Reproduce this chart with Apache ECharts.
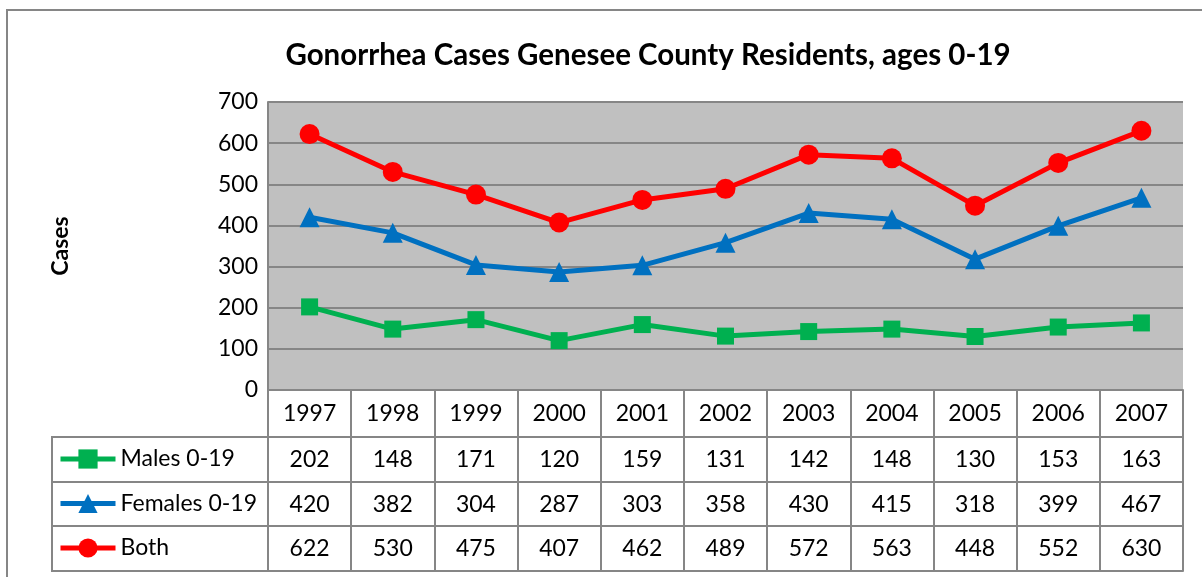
<!DOCTYPE html>
<html>
<head>
<meta charset="utf-8">
<script src="https://cdn.jsdelivr.net/npm/echarts@6/dist/echarts.min.js"></script>
<style>
  html, body { margin: 0; padding: 0; background: #fff; }
  #main { width: 1202px; height: 577px; }
</style>
</head>
<body>
<div id="main"></div>
<script>
var years = ["1997", "1998", "1999", "2000", "2001", "2002", "2003", "2004", "2005", "2006", "2007"];
var males = [202, 148, 171, 120, 159, 131, 142, 148, 130, 153, 163];
var females = [420, 382, 304, 287, 303, 358, 430, 415, 318, 399, 467];
var both = [622, 530, 475, 407, 462, 489, 572, 563, 448, 552, 630];

var FONT = "Lato";
var BORDER = "#868686";

// one extra x axis per table row, labels read from the row's array
function tableAxis(offset, tickLen, rowData) {
  return {
    type: "category",
    data: years,
    position: "bottom",
    offset: offset,
    axisLine: { show: true, lineStyle: { color: BORDER, width: 2 } },
    axisTick: { show: tickLen > 0, length: tickLen, lineStyle: { color: BORDER, width: 2 } },
    axisLabel: {
      show: !!rowData,
      interval: 0,
      margin: 11,
      color: "#000",
      fontFamily: FONT,
      fontSize: 23,
      formatter: function (v, i) {
        return rowData ? String(rowData[i]) : "";
      },
    },
  };
}

var chart = echarts.init(document.getElementById("main"));

var option = {
  animation: false,
  grid: {
    left: 268,
    right: 19,
    top: 102,
    bottom: 187,
    show: true,
    backgroundColor: "#c0c0c0",
    borderWidth: 0,
  },
  legend: {
    orient: "vertical",
    left: 58,
    top: 447,
    padding: 0,
    itemWidth: 55,
    itemHeight: 24,
    itemGap: 20.5,
    lineStyle: { width: 5 },
    textStyle: { fontFamily: FONT, fontSize: 23, lineHeight: 24, color: "#000" },
    data: ["Males 0-19", "Females 0-19", "Both"],
  },
  xAxis: [
    {
      type: "category",
      data: years,
      position: "bottom",
      axisLine: { show: true, lineStyle: { color: BORDER, width: 2 } },
      axisTick: { show: true, length: 47, lineStyle: { color: BORDER, width: 2 } },
      axisLabel: { interval: 0, margin: 12, color: "#000", fontFamily: FONT, fontSize: 23 },
    },
    tableAxis(47, 45, males),
    tableAxis(92, 44, females),
    tableAxis(136, 45, both),
    tableAxis(181, 0, null),
  ],
  yAxis: {
    type: "value",
    min: 0,
    max: 700,
    interval: 100,
    name: "Cases",
    nameLocation: "middle",
    nameGap: 196,
    nameTextStyle: { fontFamily: FONT, fontSize: 23, fontWeight: "bold", color: "#000" },
    axisLine: { show: true, lineStyle: { color: BORDER, width: 2 } },
    axisTick: { show: false },
    axisLabel: { margin: 10, color: "#000", fontFamily: FONT, fontSize: 23 },
    splitLine: { lineStyle: { color: BORDER, width: 2 } },
  },
  graphic: [
    {
      type: "rect",
      silent: true,
      shape: { x: 7, y: 10, width: 1300, height: 700 },
      style: { fill: "none", stroke: BORDER, lineWidth: 2 },
    },
    {
      type: "text",
      x: 648,
      y: 55,
      style: {
        text: "Gonorrhea Cases Genesee County Residents, ages 0-19",
        fontFamily: FONT,
        fontSize: 29.5,
        fontWeight: "bold",
        fill: "#000",
        align: "center",
        verticalAlign: "middle",
      },
    },
    // legend column borders of the data table
    { type: "line", shape: { x1: 52, y1: 437, x2: 268, y2: 437 }, style: { stroke: BORDER, lineWidth: 2 } },
    { type: "line", shape: { x1: 52, y1: 482, x2: 268, y2: 482 }, style: { stroke: BORDER, lineWidth: 2 } },
    { type: "line", shape: { x1: 52, y1: 526, x2: 268, y2: 526 }, style: { stroke: BORDER, lineWidth: 2 } },
    { type: "line", shape: { x1: 52, y1: 571, x2: 268, y2: 571 }, style: { stroke: BORDER, lineWidth: 2 } },
    { type: "line", shape: { x1: 52, y1: 436, x2: 52, y2: 572 }, style: { stroke: BORDER, lineWidth: 2 } },
  ],
  series: [
    {
      name: "Males 0-19",
      type: "line",
      data: males,
      symbol: "rect",
      symbolSize: 17,
      color: "#00b050",
      lineStyle: { width: 5, color: "#00b050" },
      itemStyle: { color: "#00b050" },
    },
    {
      name: "Females 0-19",
      type: "line",
      data: females,
      symbol: "triangle",
      symbolSize: 20,
      color: "#0070c0",
      lineStyle: { width: 5, color: "#0070c0" },
      itemStyle: { color: "#0070c0" },
    },
    {
      name: "Both",
      type: "line",
      data: both,
      symbol: "circle",
      symbolSize: 20,
      color: "#ff0000",
      lineStyle: { width: 5, color: "#ff0000" },
      itemStyle: { color: "#ff0000" },
    },
  ],
};

chart.setOption(option);
</script>
</body>
</html>
